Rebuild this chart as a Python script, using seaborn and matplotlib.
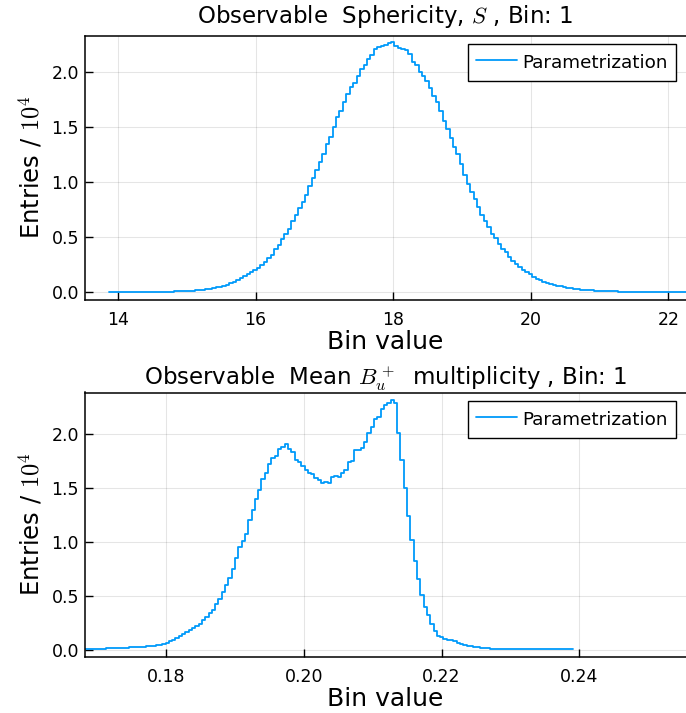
import numpy as np
import pandas as pd
import matplotlib
matplotlib.use("Agg")
import matplotlib.pyplot as plt
import seaborn as sns
from matplotlib.lines import Line2D
from matplotlib.ticker import FormatStrFormatter

# ---------------- data (entries in units of 10^4) ----------------
sph_bin_start = 13.87
sph_bin_width = 0.05
sph_counts = [
    0.000, 0.000, 0.000, 0.001, 0.001, 0.001, 0.001, 0.001, 0.001, 0.001,
    0.001, 0.002, 0.002, 0.002, 0.002, 0.003, 0.003, 0.004, 0.004, 0.005,
    0.006, 0.007, 0.008, 0.010, 0.012, 0.015, 0.018, 0.022, 0.026, 0.031,
    0.035, 0.041, 0.048, 0.058, 0.068, 0.080, 0.093, 0.108, 0.125, 0.145,
    0.160, 0.178, 0.200, 0.222, 0.248, 0.272, 0.305, 0.340, 0.392, 0.430,
    0.478, 0.530, 0.575, 0.640, 0.700, 0.760, 0.815, 0.880, 0.965, 1.030,
    1.105, 1.180, 1.255, 1.340, 1.410, 1.500, 1.590, 1.640, 1.720, 1.800,
    1.860, 1.900, 1.960, 2.020, 2.060, 2.110, 2.150, 2.200, 2.225, 2.235,
    2.240, 2.260, 2.265, 2.230, 2.215, 2.200, 2.195, 2.160, 2.090, 2.060,
    2.000, 1.960, 1.910, 1.850, 1.780, 1.720, 1.640, 1.550, 1.480, 1.400,
    1.320, 1.250, 1.160, 1.060, 0.980, 0.910, 0.840, 0.770, 0.700, 0.640,
    0.590, 0.530, 0.490, 0.440, 0.390, 0.360, 0.320, 0.280, 0.250, 0.230,
    0.200, 0.180, 0.160, 0.140, 0.120, 0.105, 0.092, 0.083, 0.074, 0.066,
    0.058, 0.050, 0.044, 0.039, 0.034, 0.029, 0.025, 0.021, 0.018, 0.016,
    0.014, 0.012, 0.010, 0.009, 0.008, 0.006, 0.005, 0.005, 0.004, 0.004,
    0.003, 0.003, 0.002, 0.002, 0.002, 0.002, 0.002, 0.001, 0.001, 0.001,
    0.001, 0.001, 0.001, 0.001, 0.001, 0.001, 0.001, 0.001, 0.001, 0.001,
]

bu_bin_start = 0.16796
bu_bin_width = 0.00048
bu_counts = [
    0.005, 0.005, 0.006, 0.006, 0.007, 0.008, 0.009, 0.010, 0.012, 0.013,
    0.014, 0.015, 0.016, 0.017, 0.019, 0.020, 0.022, 0.024, 0.026, 0.029,
    0.032, 0.035, 0.040, 0.046, 0.053, 0.064, 0.076, 0.090, 0.105, 0.125,
    0.146, 0.160, 0.178, 0.200, 0.218, 0.240, 0.272, 0.305, 0.340, 0.370,
    0.425, 0.470, 0.530, 0.596, 0.660, 0.750, 0.850, 0.953, 1.010, 1.077,
    1.200, 1.294, 1.400, 1.480, 1.580, 1.636, 1.720, 1.776, 1.800, 1.859,
    1.880, 1.906, 1.860, 1.830, 1.760, 1.740, 1.700, 1.670, 1.640, 1.630,
    1.590, 1.575, 1.550, 1.560, 1.550, 1.600, 1.610, 1.600, 1.640, 1.670,
    1.740, 1.750, 1.850, 1.850, 1.870, 1.930, 2.010, 2.070, 2.140, 2.163,
    2.230, 2.272, 2.290, 2.320, 2.290, 2.008, 1.760, 1.496, 1.238, 1.021,
    0.820, 0.658, 0.503, 0.394, 0.317, 0.239, 0.170, 0.130, 0.115, 0.100,
    0.090, 0.085, 0.077, 0.065, 0.055, 0.045, 0.037, 0.030, 0.024, 0.019,
    0.015, 0.012, 0.010, 0.008, 0.007, 0.006, 0.005, 0.004, 0.004, 0.004,
    0.003, 0.003, 0.003, 0.003, 0.002, 0.002, 0.002, 0.002, 0.002, 0.002,
    0.002, 0.002, 0.001, 0.001, 0.001, 0.001, 0.001, 0.001,
]

titles = [r"Observable  Sphericity, $S$ , Bin: 1",
          r"Observable  Mean $B_u^+$  multiplicity , Bin: 1"]
x_label = "Bin value"
y_label = r"Entries / $10^4$"
legend_label = "Parametrization"
sph_xticks = [14, 16, 18, 20, 22]
bu_xticks = [0.18, 0.20, 0.22, 0.24]
y_ticks = [0.0, 0.5, 1.0, 1.5, 2.0]

# ---------------- style ----------------
sns.set_theme(style="white")
plt.rcParams["font.family"] = ["DejaVu Sans"]
plt.rcParams["mathtext.fontset"] = "cm"
for k in ["text.color", "axes.labelcolor", "xtick.color", "ytick.color"]:
    plt.rcParams[k] = "black"

BLUE = "#009AFA"
W, H = 686, 713
fig = plt.figure(figsize=(W / 100, H / 100), dpi=100)


def add_ax(left, top, right, bottom):
    return fig.add_axes([left / W, 1 - bottom / H, (right - left) / W, (bottom - top) / H])


def panel(ax, start, width, counts, title, tpad, xlim, ylim, xticks, xfmt, leg_top):
    n = len(counts)
    edges = start + width * np.arange(n + 1)
    df = pd.DataFrame({"x": edges, "y": list(counts) + [counts[-1]]})
    sns.lineplot(data=df, x="x", y="y", ax=ax, color=BLUE, lw=1.3,
                 drawstyle="steps-post", estimator=None, sort=False, legend=False)
    ax.set_xlim(*xlim)
    ax.set_ylim(*ylim)
    ax.set_xticks(xticks)
    ax.set_yticks(y_ticks)
    ax.xaxis.set_major_formatter(FormatStrFormatter(xfmt))
    ax.yaxis.set_major_formatter(FormatStrFormatter("%.1f"))
    ax.grid(True, color="black", alpha=0.1, lw=0.8)
    for s in ["left", "bottom", "top"]:
        ax.spines[s].set_visible(True)
        ax.spines[s].set_color("black")
        ax.spines[s].set_linewidth(1.1)
    ax.spines["right"].set_visible(False)
    ax.tick_params(axis="both", which="major", direction="in", length=6, width=1,
                   labelsize=12.5, colors="black", bottom=True, left=True,
                   top=False, right=False)
    ax.tick_params(axis="x", pad=8)
    ax.tick_params(axis="y", pad=4)
    ax.set_title(title, fontsize=16.5, pad=tpad, color="black")
    ax.set_xlabel(x_label, fontsize=18, labelpad=1)
    ax.set_ylabel(y_label, fontsize=17.5, labelpad=5)
    h = Line2D([0], [0], color=BLUE, lw=1.3)
    leg = ax.legend(handles=[h], labels=[legend_label], loc="upper right",
                    bbox_to_anchor=(675.5 / W, 1 - leg_top / H),
                    bbox_transform=fig.transFigure, borderaxespad=0,
                    frameon=True, fancybox=False, edgecolor="black",
                    fontsize=13.2, handlelength=2.24, handleheight=1.4,
                    handletextpad=0.3, borderpad=0.42, framealpha=1)
    leg.get_frame().set_linewidth(1.0)


ax1 = add_ax(84.6, 35.5, 686, 299.5)
ax2 = add_ax(84.6, 392.5, 686, 656.5)

panel(ax1, sph_bin_start, sph_bin_width, sph_counts, titles[0], 9,
      (13.516, 22.257), (-0.068, 2.327), sph_xticks, "%d", 44)
panel(ax2, bu_bin_start, bu_bin_width, bu_counts, titles[1], 5.5,
      (0.16822, 0.25546), (-0.065, 2.387), bu_xticks, "%.2f", 401)

fig.savefig("out.png", dpi=100)
